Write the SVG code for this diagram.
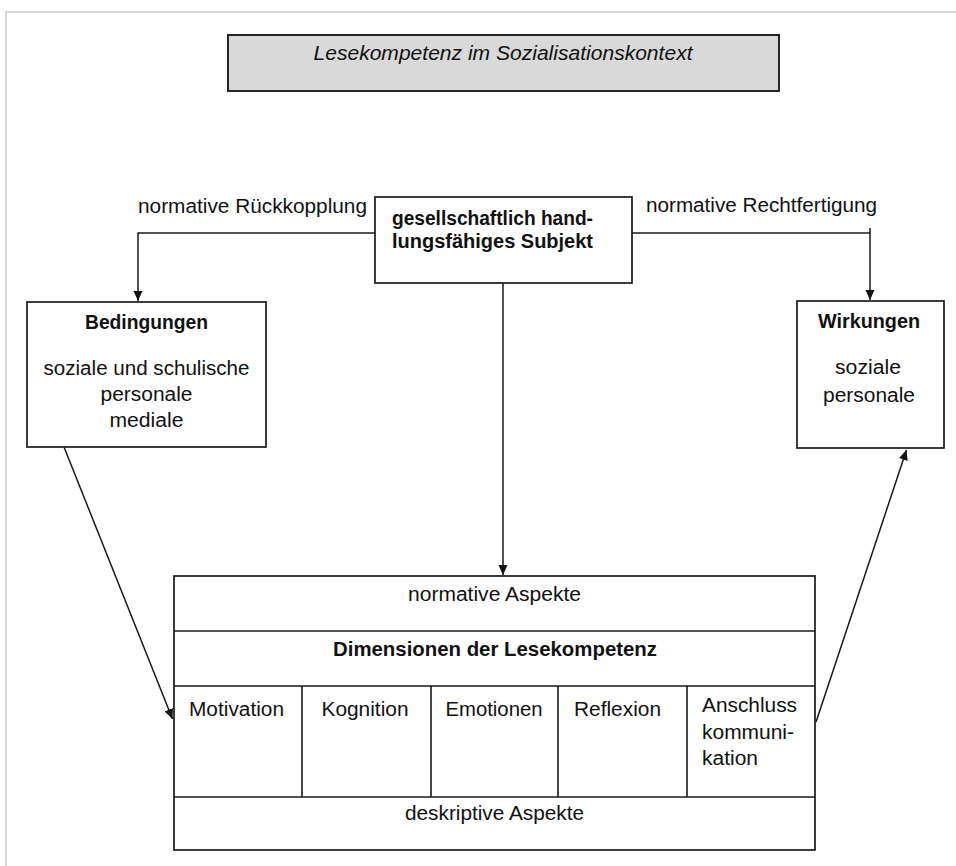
<svg xmlns="http://www.w3.org/2000/svg" width="956" height="866" viewBox="0 0 956 866">
  <defs>
    <marker id="arrow" markerUnits="userSpaceOnUse" markerWidth="11" markerHeight="10" refX="10" refY="4.5" orient="auto">
      <path d="M0,0 L10,4.5 L0,9 z" fill="#111"/>
    </marker>
    <style>
      .box { fill: #ffffff; stroke: #1a1a1a; stroke-width: 1.7; }
      .title { fill: #d9d9d9; stroke: #1a1a1a; stroke-width: 1.9; }
      .line { fill: none; stroke: #1a1a1a; stroke-width: 1.6; }
      .conn { fill: none; stroke: #1a1a1a; stroke-width: 1.5; marker-end: url(#arrow); }
      text { font-family: "Liberation Sans", Arial, sans-serif; font-size: 20px; fill: #111; }
      .b { font-weight: bold; font-size: 20px; }
      .i { font-style: italic; }
      .m { text-anchor: middle; }
    </style>
  </defs>

  <rect width="956" height="866" fill="#ffffff"/>
  <!-- page frame -->
  <path d="M6,866 V12 H956" fill="none" stroke="#d6d6d6" stroke-width="2"/>

  <g id="title">
    <rect class="title" x="228" y="35" width="551" height="56"/>
    <text class="i m" x="503" y="60" textLength="379" lengthAdjust="spacingAndGlyphs">Lesekompetenz im Sozialisationskontext</text>
  </g>

  <g id="connectors">
    <path class="conn" d="M375,233 H138 V301"/>
    <path class="conn" d="M632,233 H870 M870,228 V300"/>
    <path class="conn" d="M503,283 V575"/>
    <path class="conn" d="M64,447 L172.5,719"/>
    <path class="conn" d="M816,722 L906.5,450"/>
    <text x="138" y="213" textLength="229" lengthAdjust="spacingAndGlyphs">normative Rückkopplung</text>
    <text x="646" y="212" textLength="231" lengthAdjust="spacingAndGlyphs">normative Rechtfertigung</text>
  </g>

  <g id="subjekt">
    <rect class="box" x="375" y="197" width="257" height="86"/>
    <text class="b" x="392" y="225" textLength="201" lengthAdjust="spacingAndGlyphs">gesellschaftlich hand-</text>
    <text class="b" x="392" y="248" textLength="201" lengthAdjust="spacingAndGlyphs">lungsfähiges Subjekt</text>
  </g>

  <g id="bedingungen">
    <rect class="box" x="27" y="302" width="239" height="145"/>
    <text class="b m" x="146.5" y="329" textLength="123" lengthAdjust="spacingAndGlyphs">Bedingungen</text>
    <text class="m" x="146.5" y="375" textLength="206" lengthAdjust="spacingAndGlyphs">soziale und schulische</text>
    <text class="m" x="146.5" y="401" textLength="92" lengthAdjust="spacingAndGlyphs">personale</text>
    <text class="m" x="146.5" y="427" textLength="74" lengthAdjust="spacingAndGlyphs">mediale</text>
  </g>

  <g id="wirkungen">
    <rect class="box" x="797" y="301" width="147" height="147"/>
    <text class="b m" x="869" y="328" textLength="102" lengthAdjust="spacingAndGlyphs">Wirkungen</text>
    <text class="m" x="868" y="374" textLength="66" lengthAdjust="spacingAndGlyphs">soziale</text>
    <text class="m" x="869" y="402" textLength="92" lengthAdjust="spacingAndGlyphs">personale</text>
  </g>

  <g id="dimensionen">
    <rect class="box" x="174" y="576" width="641" height="274"/>
    <path class="line" d="M174,631 H815 M174,686 H815 M174,797 H815 M302,686 V797 M431,686 V797 M558,686 V797 M687,686 V797"/>
    <text class="m" x="494.5" y="601" textLength="173" lengthAdjust="spacingAndGlyphs">normative Aspekte</text>
    <text class="b m" x="495" y="656" textLength="324" lengthAdjust="spacingAndGlyphs">Dimensionen der Lesekompetenz</text>
    <text x="189" y="716" textLength="95" lengthAdjust="spacingAndGlyphs">Motivation</text>
    <text x="321.5" y="716" textLength="87" lengthAdjust="spacingAndGlyphs">Kognition</text>
    <text x="445.5" y="716" textLength="97" lengthAdjust="spacingAndGlyphs">Emotionen</text>
    <text x="574" y="716" textLength="87" lengthAdjust="spacingAndGlyphs">Reflexion</text>
    <text x="702" y="712" textLength="95" lengthAdjust="spacingAndGlyphs">Anschluss</text>
    <text x="702" y="739" textLength="92" lengthAdjust="spacingAndGlyphs">kommuni-</text>
    <text x="702" y="765" textLength="56" lengthAdjust="spacingAndGlyphs">kation</text>
    <text class="m" x="494.5" y="820" textLength="179" lengthAdjust="spacingAndGlyphs">deskriptive Aspekte</text>
  </g>
</svg>
